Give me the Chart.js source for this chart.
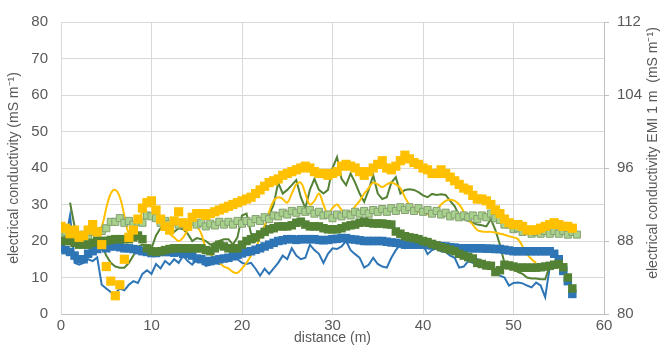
<!DOCTYPE html>
<html><head><meta charset="utf-8">
<script src="https://cdn.jsdelivr.net/npm/chart.js@4/dist/chart.umd.min.js"></script>
<style>html,body{margin:0;padding:0;background:#fff}#wrap{width:663px;height:347px;position:relative}</style>
</head><body><div id="wrap"><canvas id="c" width="663" height="347"></canvas></div>
<script>
const distance = [
 0,0.5,1,1.5,2,2.5,3,3.5,4,4.5,
 5,5.5,6,6.5,7,7.5,8,8.5,9,9.5,
 10,10.5,11,11.5,12,12.5,13,13.5,14,14.5,
 15,15.5,16,16.5,17,17.5,18,18.5,19,19.5,
 20,20.5,21,21.5,22,22.5,23,23.5,24,24.5,
 25,25.5,26,26.5,27,27.5,28,28.5,29,29.5,
 30,30.5,31,31.5,32,32.5,33,33.5,34,34.5,
 35,35.5,36,36.5,37,37.5,38,38.5,39,39.5,
 40,40.5,41,41.5,42,42.5,43,43.5,44,44.5,
 45,45.5,46,46.5,47,47.5,48,48.5,49,49.5,
 50,50.5,51,51.5,52,52.5,53,53.5,54,54.5,
 55,55.5,56,56.5,57];

const yellowSquares = [
 24,23.5,22,23,21,21.5,23,24.5,22.5,19,
 13,9,5,8,15,21,23,26,29,30.5,
 31,28.5,26,24,23,25.5,28,25,24,26.5,
 27.5,27.5,27,27.5,28,28.5,29,29.5,30,30.5,
 31,31.5,32,33,34,35,36,36.5,37,38,
 38.5,39,39.5,40,40.5,40,39,38.5,38.5,38,
 38.5,39,40.5,41,40.5,40,39,38,39,40,
 41,42,40,39.5,40.5,42,43.5,42.5,41.5,41,
 40,39.5,38.5,38.5,39.5,38.5,37.5,36.5,35.5,34.5,
 34,32.5,31.5,31.5,31,30,28.5,27.5,26,25,
 24.5,24.5,24,23,23,23,23.5,24,24.5,25,
 24.5,24,24,23.5,null];

const yellowLine = [
 23,23,22,22,21.5,22,23,24,23,24,
 29,33,34,32,27,22,22,25,28,29.5,
 29.5,28,26,24,22,21,20,21,23,25,
 24,22,18,16.5,15,14,13,12.5,11.5,11.3,
 12.5,14,16,18,21,24,28,31,32,31.5,
 30.5,33,35.5,36,33,30,31,33,30,27.5,
 29,30,28.5,27.5,28,29.5,31,33,34.5,36,
 35.5,34.8,35.5,36,35.5,34.5,32,30,29,28,
 27.5,27.3,27.5,28.5,30,31,31.3,31,30,28,
 26,24.5,23,22.6,22.5,22.5,22.3,22,21.7,21.3,
 21,20.5,18.5,16.4,15,14,null,null,null,null,
 null,null,null,null,null];

const blueLine = [
 18,20,27,14,13.5,14,15,14.5,15.5,8,
 7,6,5.6,7,6.5,8,9,8.5,11,12,
 11,13.7,12.5,14.5,13.5,15,14,16,14.5,13.5,
 15,14.5,13.2,13.5,14.5,13.7,15,14.5,16,15,
 14,13.7,14,12.4,10.5,12.4,11,12.5,14,16,
 15,18,16,15,15.4,19,17.5,16.5,14,16.5,
 18,17.8,18.5,20,17.5,16.4,15.4,12.7,13.5,15.4,
 13.7,13,12.7,15.4,17.5,19,18,19,19.5,20,
 19,16.4,17.5,18,17.2,17,16,15.4,12.7,13,
 14.5,14,15,14.5,13.5,12.5,11,10.5,10,7.8,
 8.5,8.6,8.4,7.8,7.3,8.6,7.8,4.6,12.7,null,
 null,null,null,null,null];

const blueSquares = [
 18,17.5,17,16,15,15,16.5,17.2,17.8,18.5,
 18,18.5,18.6,18.3,18,18,17.8,17.5,17.2,17,
 16.7,16.7,17,17,17,16.8,17,16.5,16.4,16,
 15.2,15,14.5,14.5,14.7,15,15.2,15.4,15.8,16.2,
 16.6,17,17.2,17.6,18,18.5,19,19.5,20,20.2,
 20.5,20.5,20.3,20.5,20.5,20.5,20.5,20.3,20.2,20.3,
 20.5,20.6,20.8,20.8,20.5,20.4,20.2,20,20,20,
 20,20,19.8,19.6,19.5,19.3,19,19,19,19,
 19,18.9,18.8,18.7,18.6,18.5,18.3,18.2,18,18,
 18,18,18,18,17.9,17.9,17.8,17.8,17.6,17.4,
 17.2,17.2,17.2,17.2,17.2,17.2,17.2,17.2,17.2,16.5,
 15,11.8,9,5.5,null];

const greenSquares = [
 20,20,20,19.5,19,19,19,19.5,20,20,
 20,20.3,20.5,20.5,20.5,20.5,21,21.5,20.5,18,
 17.2,17,17.2,17.5,17.8,18,18,18,18,18,
 18,18,17.5,17.2,18,19,18.5,18,18,18,
 19,20,20.5,21,21.8,22.5,23.2,23.5,24,24,
 24,24.3,25,25.3,24.5,24,24,24,23.5,23.2,
 23.2,23.2,23.5,24,24.3,24.5,25,25.3,25,24.8,
 24.8,24.8,24.6,24.5,22.6,22,21.3,21,20.8,20.5,
 20,19.7,19.2,18.8,18.3,18,17.6,17.2,16.5,16,
 15.6,15.2,14,13.7,13.3,13.2,11.5,12,13.5,13.3,
 13,12.7,12.7,12.7,12.7,12.7,12.8,13,13.2,13.5,
 13.7,12.8,10,7,null];

const greenLine = [
 null,null,30.5,24,21,20.5,21,20,20.5,19,
 16,14,13,12.7,12.7,14,16,18.5,19,18,
 18,21.5,23.5,23.5,23,22.5,23.5,23.2,22,20,
 20.8,20.5,20,19,19.5,20,20.5,20.5,19,21,
 27,27.5,22,20,22,24,27,30,36,33,
 34,35.3,36.7,32,29,34,37,34,33,34,
 40,43,37,35.3,38.5,36,33,30.7,34,38,
 33,31.5,32,36,37.5,33,34,34.2,34,33.4,
 32.5,32,32.9,32.6,32.8,32.6,31,29.5,27,26,
 25.5,25,24.5,24.3,24,26,23,19,14,13,
 12.5,11.5,11,10,9.7,9.7,9.5,9.5,13.2,null,
 null,null,null,null,null];

const emi1m = [
 88.7,89.0,88.5,88.8,88.3,88.7,88.5,89.0,88.7,89.1,
 89.4,90.1,90.1,90.5,90.0,90.2,89.8,90.1,90.0,90.8,
 90.7,90.5,90.0,90.2,89.9,90.1,89.8,89.9,89.7,90.1,
 89.8,90.0,89.6,89.9,89.7,90.1,89.8,90.1,89.8,90.2,
 89.9,90.2,90.0,90.4,90.2,90.6,90.4,90.8,90.7,91.1,
 90.9,91.3,91.1,91.4,91.2,91.4,91.0,91.2,90.8,90.9,
 90.5,90.9,90.7,91.0,90.8,91.2,91.0,91.3,91.0,91.4,
 91.2,91.5,91.2,91.6,91.3,91.7,91.4,91.7,91.3,91.6,
 91.2,91.4,91.0,91.3,90.9,91.1,90.7,90.9,90.6,90.8,
 90.6,90.8,90.4,90.8,90.6,91.0,90.5,90.3,89.8,89.8,
 89.3,89.4,89.0,89.1,88.8,89.0,88.8,89.1,88.8,89.1,
 88.8,89.1,88.7,89.0,88.7];

const leftTitle = 'electrical conductivity (mS m\u207B\u00B9)';
const rightTitle = 'electrical conductivity EMI 1 m  (mS m\u207B\u00B9)';
const xTitle = 'distance (m)';

function pts(vals){ return distance.map((d,i)=>({x:d, y:vals[i]})); }

const FONT = "'Liberation Sans', Arial, sans-serif";
const GREY = '#595959';

function sq(label, vals, color, r, order, axis, border){
  return {label, data: pts(vals), showLine:false, pointStyle:'rect', pointRadius:r,
    pointHoverRadius:r, backgroundColor:color, borderColor: border||color,
    pointBorderWidth: border?1:0, yAxisID: axis||'y', order};
}
function ln(label, vals, color, order, tension){
  return {label, data: pts(vals), showLine:true, pointRadius:0, borderColor:color,
    backgroundColor:color, borderWidth:2, tension: tension||0, yAxisID:'y', order, spanGaps:false};
}

const rightTitlePlugin = {
  id:'rightTitle',
  afterDraw(chart){
    const ctx = chart.ctx;
    ctx.save();
    ctx.translate(653, 153);
    ctx.rotate(-Math.PI/2);
    ctx.font = '14px ' + FONT;
    ctx.fillStyle = GREY;
    ctx.textAlign = 'center';
    ctx.textBaseline = 'middle';
    ctx.fillText(rightTitle, 0, 0);
    ctx.restore();
  }
};

new Chart(document.getElementById('c'), {
  type:'line',
  data:{ datasets:[
    sq('yellow squares', yellowSquares, '#ffc000', 6.5, 0),
    sq('green squares', greenSquares, '#548235', 6, 1),
    sq('blue squares', blueSquares, '#2e75b6', 6, 2),
    sq('EMI 1 m', emi1m, '#a9d18e', 5, 3, 'y2', '#84a070'),
    ln('yellow', yellowLine, '#ffc000', 4, 0.4),
    ln('green', greenLine, '#548235', 5, 0),
    ln('blue', blueLine, '#2e75b6', 6, 0)
  ]},
  options:{
    responsive:false, animation:false, devicePixelRatio:1,
    layout:{padding:{top:17, right:0, bottom:0, left:0}},
    plugins:{legend:{display:false}, tooltip:{enabled:false}},
    scales:{
      x:{type:'linear', min:0, max:60,
        ticks:{stepSize:10, color:GREY, font:{family:FONT, size:15}, padding:3},
        grid:{color:'#d9d9d9', drawTicks:false},
        border:{color:'#bfbfbf'},
        title:{display:true, text:xTitle, color:GREY, font:{family:FONT, size:14}, padding:{top:0,bottom:0}},
        afterFit(s){ s.height = 33; }
      },
      y:{type:'linear', position:'left', min:0, max:80,
        ticks:{stepSize:10, color:GREY, font:{family:FONT, size:15}, padding:13},
        grid:{color:'#d9d9d9', drawTicks:false},
        border:{color:'#d9d9d9'},
        title:{display:true, text:leftTitle, color:GREY, font:{family:FONT, size:14}, padding:{top:6,bottom:0}},
        afterFit(s){ s.width = 61; }
      },
      y2:{type:'linear', position:'right', min:80, max:112,
        ticks:{stepSize:8, color:GREY, font:{family:FONT, size:15}, padding:8},
        grid:{drawOnChartArea:false, color:'#bfbfbf', tickLength:5},
        border:{color:'#bfbfbf'},
        title:{display:false},
        afterFit(s){ s.width = 59; }
      }
    }
  },
  plugins:[rightTitlePlugin]
});
</script></body></html>
